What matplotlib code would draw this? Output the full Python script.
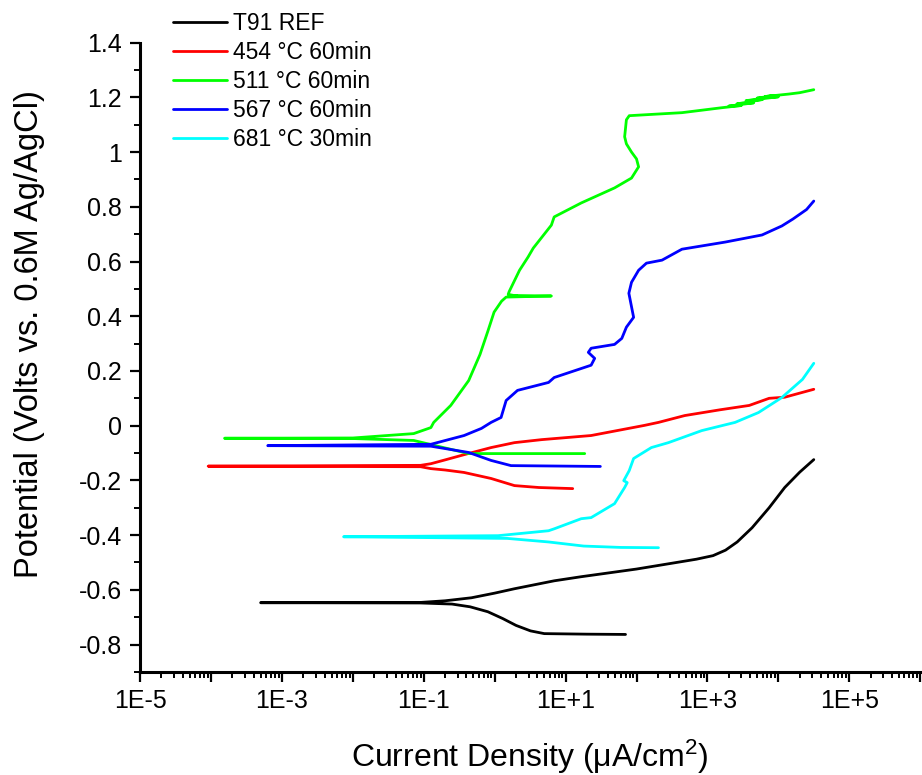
import math
import matplotlib
matplotlib.use("Agg")
import matplotlib.pyplot as plt
from matplotlib.ticker import LogLocator, MultipleLocator, FuncFormatter, NullFormatter

plt.rcParams['font.family'] = ['Liberation Sans', 'DejaVu Sans']
plt.rcParams['mathtext.fontset'] = 'custom'
plt.rcParams['mathtext.rm'] = 'Liberation Sans'
plt.rcParams['mathtext.it'] = 'Liberation Sans:italic'

# Potentiodynamic polarization curves: current density (uA/cm2) vs potential (V)
# Each curve runs from the cathodic end, through Ecorr, out along the anodic branch.
ref_i = [70, 20, 5.0, 3.2, 2.0, 1.3, 0.8, 0.45, 0.25, 0.09, 5e-4, 0.09, 0.2,
         0.47, 1.0, 1.9, 6.9, 16.6, 100, 700, 1200, 1800, 2630, 4266, 7413,
         12300, 20000, 31620]
ref_e = [-0.763, -0.762, -0.760, -0.750, -0.730, -0.705, -0.680, -0.662, -0.652,
         -0.648, -0.647, -0.646, -0.640, -0.629, -0.612, -0.596, -0.567, -0.552,
         -0.524, -0.488, -0.475, -0.455, -0.425, -0.373, -0.300, -0.226, -0.170,
         -0.124]

t454_i = [12.6, 4.2, 1.9, 0.89, 0.37, 0.2, 0.126, 0.09, 9.1e-5, 0.09, 0.126,
          0.2, 0.37, 0.89, 1.9, 4.6, 22.9, 129, 204, 479, 1500, 3890, 7413,
          12300, 31620]
t454_e = [-0.230, -0.226, -0.219, -0.193, -0.171, -0.162, -0.157, -0.150, -0.148,
          -0.145, -0.139, -0.125, -0.106, -0.080, -0.062, -0.051, -0.036, 0.001,
          0.012, 0.037, 0.058, 0.074, 0.100, 0.104, 0.133]

t511_i = [18.6, 0.43, 0.22, 0.072, 0.01, 1.55e-4, 0.01, 0.072, 0.126, 0.138,
          0.24, 0.43, 0.62, 0.80, 0.98, 1.25, 1.45, 6.3, 1.6, 2.2, 1.55, 1.6,
          2.24, 2.95, 3.5, 6.3, 6.9, 16.6, 49, 85, 107, 100, 85, 72, 68, 72, 79,
          437, 1585, 3000, 2000, 4500, 2600, 6000, 3500, 10000, 5000, 9000, 6500,
          14000, 20000, 31620]
t511_e = [-0.102, -0.102, -0.084, -0.054, -0.047, -0.046, -0.045, -0.029, -0.007,
          0.012, 0.074, 0.165, 0.260, 0.345, 0.415, 0.455, 0.470, 0.474, 0.476,
          0.472, 0.480, 0.490, 0.568, 0.616, 0.649, 0.733, 0.763, 0.814, 0.869,
          0.905, 0.946, 0.975, 1.000, 1.030, 1.056, 1.118, 1.133, 1.144, 1.162,
          1.170, 1.168, 1.180, 1.176, 1.192, 1.188, 1.202, 1.197, 1.207, 1.203,
          1.212, 1.217, 1.228]

t567_i = [30.9, 1.7, 0.89, 0.43, 0.126, 6.3e-4, 0.126, 0.37, 0.65, 0.89, 1.23,
          1.45, 2.1, 5.75, 6.9, 22.9, 25.7, 20.9, 22.9, 49, 62, 72, 91, 78, 85,
          107, 138, 229, 437, 1778, 5890, 11220, 16000, 25000, 31620]
t567_e = [-0.149, -0.146, -0.127, -0.098, -0.075, -0.073, -0.068, -0.036, -0.010,
          0.012, 0.030, 0.092, 0.129, 0.158, 0.176, 0.221, 0.246, 0.268, 0.283,
          0.297, 0.319, 0.360, 0.396, 0.484, 0.524, 0.568, 0.594, 0.605, 0.645,
          0.671, 0.697, 0.730, 0.755, 0.790, 0.821]

t681_i = [204, 60, 18, 5.75, 1.5, 7.4e-3, 1.12, 5.75, 6.9, 16.6, 22.9, 49, 68,
          74, 66, 79, 91, 162, 282, 832, 2455, 5250, 11220, 21880, 31620]
t681_e = [-0.446, -0.445, -0.440, -0.425, -0.412, -0.406, -0.402, -0.384, -0.377,
          -0.340, -0.336, -0.285, -0.226, -0.208, -0.201, -0.164, -0.120, -0.080,
          -0.062, -0.018, 0.012, 0.048, 0.103, 0.169, 0.228]

series = [
    ("T91 REF", ref_i, ref_e, "#000000"),
    ("454 °C 60min", t454_i, t454_e, "#FF0000"),
    ("511 °C 60min", t511_i, t511_e, "#00FF00"),
    ("567 °C 60min", t567_i, t567_e, "#0000FF"),
    ("681 °C 30min", t681_i, t681_e, "#00FFFF"),
]

fig = plt.figure(figsize=(9.22, 7.75), dpi=100)
ax = fig.add_axes([0.152, 0.133, 0.846, 0.812])

for label, xi, ye, color in series:
    ax.plot(xi, ye, color=color, lw=2, label=label,
            solid_joinstyle='round', solid_capstyle='round')

ax.set_xscale('log')
ax.set_xlim(1e-5, 1e6)
ax.set_ylim(-0.9, 1.4)

ax.xaxis.set_major_locator(LogLocator(base=10, numticks=20))
ax.xaxis.set_minor_locator(LogLocator(base=10, subs=range(2, 10), numticks=100))
ax.xaxis.set_minor_formatter(NullFormatter())


def xfmt(v, pos):
    e = int(round(math.log10(v)))
    if e % 2 == 0:
        return ""
    return "1E%+d" % e


def yfmt(v, pos):
    if abs(v) < 1e-9:
        return "0"
    return "%g" % round(v, 2)


ax.xaxis.set_major_formatter(FuncFormatter(xfmt))
ax.yaxis.set_major_locator(MultipleLocator(0.2))
ax.yaxis.set_minor_locator(MultipleLocator(0.1))
ax.yaxis.set_major_formatter(FuncFormatter(yfmt))

for s in ("top", "right"):
    ax.spines[s].set_visible(False)
for s in ("left", "bottom"):
    ax.spines[s].set_linewidth(2.2)

ax.tick_params(which='major', length=7, width=1.6, labelsize=18, direction='out', pad=5)
ax.tick_params(which='minor', length=4, width=1.4, direction='out')
ax.tick_params(axis='y', which='major', pad=6)

ax.set_xlabel("Current Density (μA/cm$^{2}$)", fontsize=23)
ax.set_ylabel("Potential (Volts vs. 0.6M Ag/AgCl)", fontsize=23.5)
ax.xaxis.set_label_coords(0.5, -0.105)
ax.xaxis.label.set_va('top')
ax.yaxis.set_label_coords(-0.122, 0.537)

fig.legend(loc='upper left', bbox_to_anchor=(0.1876, 0.985), frameon=False,
           fontsize=16.5, handlelength=2.36, handletextpad=0.26, labelspacing=0.27,
           borderpad=0, borderaxespad=0)

fig.savefig("out.png", dpi=100)
